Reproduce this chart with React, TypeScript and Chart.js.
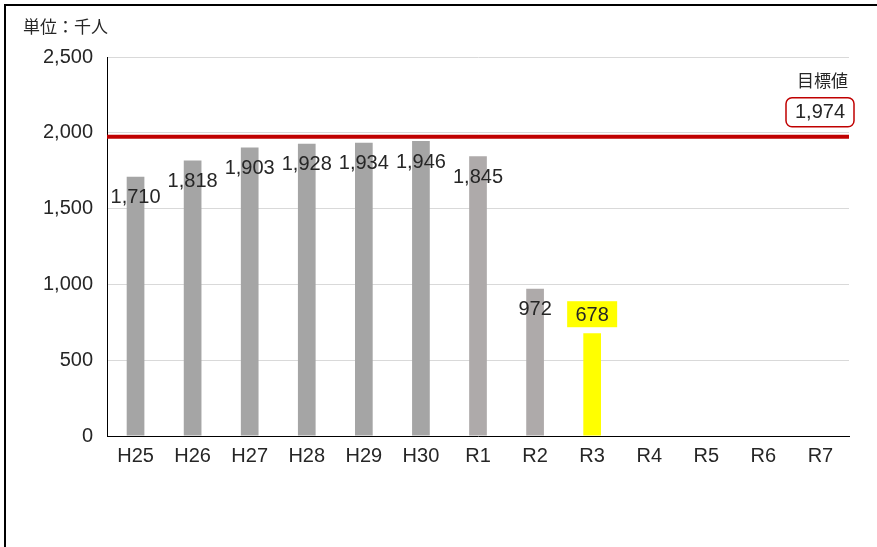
import React, { useEffect, useRef } from "react";
import { Chart, registerables } from "chart.js";

Chart.register(...registerables);

const categories = ["H25", "H26", "H27", "H28", "H29", "H30", "R1", "R2", "R3", "R4", "R5", "R6", "R7"];
const visitors: (number | null)[] = [1710, 1818, 1903, 1928, 1934, 1946, 1845, 972, 678, null, null, null, null];
const targetValue = 1974;
const yTickValues = [0, 500, 1000, 1500, 2000, 2500];
const unitLabel = "単位：千人";
const targetLabel = "目標値";

const NUM_FONT = '"Liberation Sans", Arial, sans-serif';
const JP_FONT = '"Noto Sans CJK JP", "Noto Sans", sans-serif';
const TEXT = "#262626";

const fmt = (v: number) => v.toLocaleString("en-US");

let highlightIndex = -1;
visitors.forEach((v, i) => {
  if (v !== null) highlightIndex = i;
});

const barColors = categories.map((_, i) =>
  i === highlightIndex ? "#ffff00" : i >= 6 ? "#aeaaaa" : "#a5a5a5"
);

const overlayPlugin = {
  id: "overlay",
  afterDatasetsDraw(chart: any) {
    const ctx = chart.ctx as CanvasRenderingContext2D;
    const area = chart.chartArea;
    const ys = chart.scales.y;
    const meta = chart.getDatasetMeta(0);
    ctx.save();

    // target line
    const ty = ys.getPixelForValue(targetValue);
    ctx.strokeStyle = "#c00000";
    ctx.lineWidth = 4;
    ctx.beginPath();
    ctx.moveTo(area.left, ty);
    ctx.lineTo(area.right, ty);
    ctx.stroke();

    // target label and box
    ctx.font = `17px ${JP_FONT}`;
    ctx.fillStyle = TEXT;
    ctx.textAlign = "right";
    ctx.textBaseline = "middle";
    ctx.fillText(targetLabel, area.right - 1, ty - 56);

    const bw = 68;
    const bh = 29;
    const bx = area.right + 5 - bw;
    const by = ty - 10 - bh;
    ctx.strokeStyle = "#c00000";
    ctx.lineWidth = 1.5;
    ctx.beginPath();
    (ctx as any).roundRect(bx, by, bw, bh, 6);
    ctx.fillStyle = "#ffffff";
    ctx.fill();
    ctx.stroke();
    ctx.font = `20px ${NUM_FONT}`;
    ctx.fillStyle = TEXT;
    ctx.textAlign = "center";
    ctx.fillText(fmt(targetValue), bx + bw / 2, by + bh / 2);

    // data labels
    ctx.font = `20px ${NUM_FONT}`;
    ctx.textAlign = "center";
    ctx.textBaseline = "middle";
    meta.data.forEach((bar: any, i: number) => {
      const v = visitors[i];
      if (v === null) return;
      const x = bar.x;
      if (i === highlightIndex) {
        const y = bar.y - 19;
        ctx.fillStyle = "#ffff00";
        ctx.fillRect(x - 25, y - 13, 50, 26);
        ctx.fillStyle = TEXT;
        ctx.fillText(fmt(v), x, y + 1);
      } else {
        ctx.fillStyle = TEXT;
        ctx.fillText(fmt(v), x, bar.y + 21);
      }
    });

    // unit label
    ctx.font = `17px ${JP_FONT}`;
    ctx.fillStyle = TEXT;
    ctx.textAlign = "left";
    ctx.textBaseline = "middle";
    ctx.fillText(unitLabel, 23, 27);

    ctx.restore();
  },
};

export default function App() {
  const canvasRef = useRef<HTMLCanvasElement | null>(null);

  useEffect(() => {
    if (!canvasRef.current) return;
    const chart = new Chart(canvasRef.current, {
      type: "bar",
      data: {
        labels: categories,
        datasets: [
          {
            data: visitors as any,
            backgroundColor: barColors,
            borderWidth: 0,
            barPercentage: 0.31,
            categoryPercentage: 1,
          },
        ],
      },
      options: {
        responsive: false,
        animation: false,
        events: [],
        layout: { padding: { left: 0, top: 57, right: 28, bottom: 71 } },
        plugins: {
          legend: { display: false },
          tooltip: { enabled: false },
        },
        scales: {
          x: {
            grid: { display: false, drawTicks: false },
            border: { display: true, color: "#000000", width: 1 },
            ticks: {
              padding: 8,
              color: TEXT,
              font: { family: NUM_FONT, size: 20 },
              maxRotation: 0,
              autoSkip: false,
            },
            afterFit: (s: any) => {
              s.height = 40;
            },
          },
          y: {
            min: 0,
            max: 2500,
            grid: {
              drawTicks: false,
              color: (c: any) => (c.tick && c.tick.value === 0 ? "rgba(0,0,0,0)" : "#d9d9d9"),
              lineWidth: 1,
            },
            border: { display: true, color: "#000000", width: 1 },
            afterBuildTicks: (s: any) => {
              s.ticks = yTickValues.map((v) => ({ value: v }));
            },
            ticks: {
              padding: 14,
              color: TEXT,
              font: { family: NUM_FONT, size: 20 },
              callback: (v: any) => fmt(Number(v)),
            },
            afterFit: (s: any) => {
              s.width = 107;
            },
          },
        },
      },
      plugins: [overlayPlugin],
    });
    return () => chart.destroy();
  }, []);

  return (
    <div
      style={{
        position: "fixed",
        left: 0,
        top: 0,
        width: 877,
        height: 547,
        background: "#ffffff",
        overflow: "hidden",
      }}
    >
      <canvas ref={canvasRef} width={877} height={547} style={{ display: "block" }} />
      <div
        style={{
          position: "absolute",
          left: 4,
          top: 4,
          right: -10,
          bottom: -10,
          borderTop: "2px solid #000",
          borderLeft: "2px solid #000",
          pointerEvents: "none",
        }}
      />
    </div>
  );
}
